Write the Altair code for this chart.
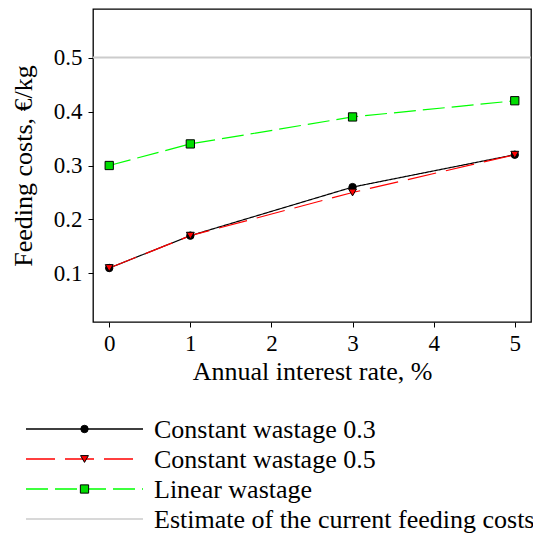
import altair as alt
import pandas as pd

# ---- data ----
x_rate = [0, 1, 3, 5]
cw03 = [0.11, 0.17, 0.26, 0.32]
cw05 = [0.11, 0.17, 0.25, 0.32]
linear = [0.30, 0.34, 0.39, 0.42]
current_cost = [0.5]
series_names = [
    "Constant wastage 0.3",
    "Constant wastage 0.5",
    "Linear wastage",
    "Estimate of the current feeding costs",
]
x_ticks = [0, 1, 2, 3, 4, 5]
y_ticks = [0.1, 0.2, 0.3, 0.4, 0.5]

rows = []
for name, vals in zip(series_names[:3], [cw03, cw05, linear]):
    for xv, yv in zip(x_rate, vals):
        rows.append({"series": name, "rate": xv, "cost": yv})
df = pd.DataFrame(rows)
cur_df = pd.DataFrame({"cost": current_cost, "series": [series_names[3]]})
leg_df = pd.DataFrame({"series": series_names})

# ---- styles ----
line_colors = ["#000000", "#ff0000", "#00ff00", "#cccccc"]
dashes = [[1, 0], [29, 10], [22, 7], [1, 0]]
shapes = ["circle", "triangle-down", "square", "circle"]
fills = ["#000000", "#ff0000", "#00dd00", "#cccccc"]
sizes = [55, 75, 65, 55]
FONT = "Liberation Serif"

xs = alt.Scale(domain=[-0.2, 5.2], nice=False, zero=False)
ys = alt.Scale(domain=[0.01, 0.59], nice=False, zero=False)
color_scale = alt.Scale(domain=series_names, range=line_colors)
dash_scale = alt.Scale(domain=series_names, range=dashes)
shape_scale = alt.Scale(domain=series_names, range=shapes)
fill_scale = alt.Scale(domain=series_names, range=fills)
size_scale = alt.Scale(domain=series_names, range=sizes)

xaxis = alt.Axis(values=x_ticks, format="d", title="Annual interest rate, %",
                 labelFontSize=23, titleFontSize=26, tickSize=5,
                 labelPadding=5, titlePadding=3)
yaxis = alt.Axis(values=y_ticks, format=".1f", title="Feeding costs, €/kg",
                 labelFontSize=23, titleFontSize=26, tickSize=5,
                 labelPadding=6, titlePadding=17)

X = alt.X("rate:Q", scale=xs, axis=xaxis)
Y = alt.Y("cost:Q", scale=ys, axis=yaxis)

cur_rule = alt.Chart(cur_df).mark_rule(strokeWidth=2).encode(
    y=alt.Y("cost:Q", scale=ys, axis=yaxis),
    color=alt.Color("series:N", scale=color_scale, legend=None),
)
lines = alt.Chart(df).mark_line(strokeWidth=1.2).encode(
    x=X, y=Y,
    color=alt.Color("series:N", scale=color_scale, legend=None),
    strokeDash=alt.StrokeDash("series:N", scale=dash_scale, legend=None),
)
points = alt.Chart(df).mark_point(filled=True, stroke="black", strokeWidth=1, opacity=1).encode(
    x=X, y=Y,
    fill=alt.Fill("series:N", scale=fill_scale, legend=None),
    shape=alt.Shape("series:N", scale=shape_scale, legend=None),
    size=alt.Size("series:N", scale=size_scale, legend=None),
)
main = alt.layer(cur_rule, lines, points)

# ---- manual legend below the plot ----
legx = alt.Scale(domain=[0, 1], range=[-67, 50], nice=False, zero=False)
legy = alt.Scale(type="point", domain=series_names, range=[420, 510], padding=0)
LY = alt.Y("series:N", scale=legy, axis=None)

leg_rules = alt.Chart(leg_df).mark_rule(strokeWidth=1.3).encode(
    x=alt.XDatum(0, scale=legx, axis=None), x2=alt.X2Datum(1), y=LY,
    color=alt.Color("series:N", scale=color_scale, legend=None),
    strokeDash=alt.StrokeDash("series:N", scale=dash_scale, legend=None),
)
leg_points = alt.Chart(leg_df).transform_filter(
    alt.datum.series != series_names[3]
).mark_point(filled=True, stroke="black", strokeWidth=1, opacity=1).encode(
    x=alt.XDatum(0.5, scale=legx, axis=None), y=LY,
    fill=alt.Fill("series:N", scale=fill_scale, legend=None),
    shape=alt.Shape("series:N", scale=shape_scale, legend=None),
    size=alt.Size("series:N", scale=size_scale, legend=None),
)
leg_text = alt.Chart(leg_df).mark_text(
    align="left", baseline="alphabetic", dx=11, dy=9, fontSize=26, font=FONT, color="black"
).encode(
    x=alt.XDatum(1, scale=legx, axis=None), y=LY, text="series:N",
)
legend = alt.layer(leg_rules, leg_points, leg_text)

chart = alt.layer(main, legend).resolve_scale(
    x="independent", y="independent"
).properties(
    width=438, height=313,
    autosize=alt.AutoSizeParams(type="none"),
    padding={"left": 85, "top": 1, "right": 2, "bottom": 211},
).configure_view(
    stroke="black", strokeWidth=1.3
).configure_axis(
    domain=False, grid=False, tickColor="black", tickWidth=1,
    labelFont=FONT, titleFont=FONT, labelColor="black", titleColor="black",
    titleFontWeight="normal",
).configure_text(font=FONT)

chart.save("out.html", embed_options={"renderer": "svg", "actions": False})
